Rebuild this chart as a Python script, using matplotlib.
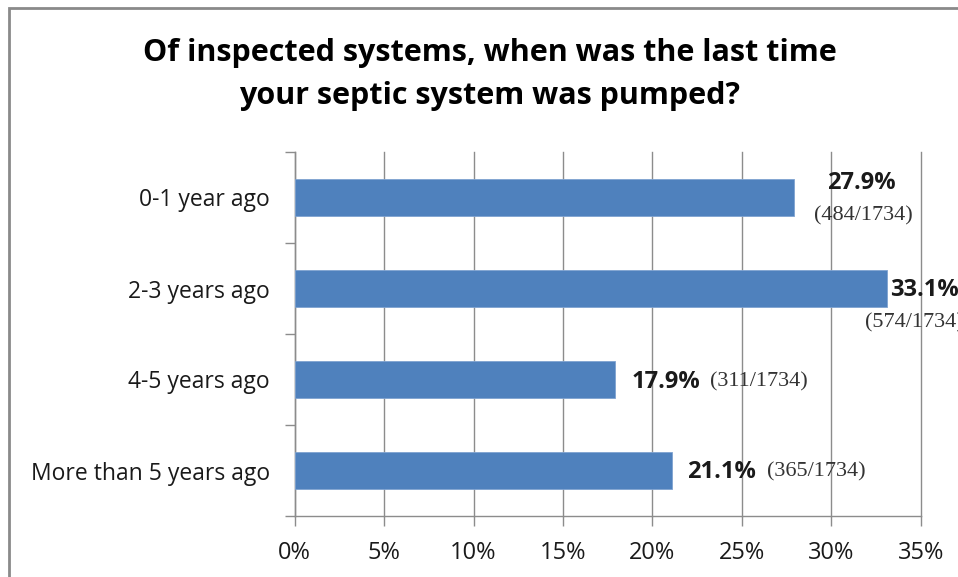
import matplotlib
matplotlib.use("Agg")
import matplotlib.pyplot as plt
from matplotlib.patches import Rectangle
import numpy as np

# data
categories = ["0-1 year ago", "2-3 years ago", "4-5 years ago", "More than 5 years ago"]
percents = [27.9, 33.1, 17.9, 21.1]
counts = [484, 574, 311, 365]
total = 1734
x_ticks = [0, 5, 10, 15, 20, 25, 30, 35]

title = "Of inspected systems, when was the last time\nyour septic system was pumped?"

# label placement, in px from bar end / bar centre (dy positive = down)
pct_pos = [(68, -14.5, "center"), (3, 1.5, "left"), (17, 2.5, "left"), (15, 1.5, "left")]
cnt_pos = [(70, 18.5, "center"), (-22, 34.5, "left"), (95, 2.5, "left"), (95, 1.5, "left")]

BAR = "#4F81BD"
GRID = "#8C8C8C"
TXT = "#1a1a1a"

W, H = 958, 577
fig = plt.figure(figsize=(W / 100, H / 100), dpi=100)
ax = fig.add_axes([294.7 / W, (H - 516) / H, (920.7 - 294.7) / W, (516 - 152) / H])

y = np.arange(len(categories))
ax.barh(y, percents, height=0.41, color=BAR, edgecolor="#7fa3d1", linewidth=0.6, zorder=3)

ax.set_xlim(0, 35)
ax.set_ylim(len(categories) - 0.5, -0.5)
ax.set_xticks(x_ticks)
ax.set_xticklabels([f"{t}%" for t in x_ticks], fontsize=17, family="Open Sans", color=TXT)
ax.set_yticks(np.arange(len(categories) + 1) - 0.5)
ax.set_yticklabels([])
ax.set_yticks(y, minor=True)
ax.set_yticklabels(categories, minor=True, fontsize=16.5, family="Open Sans", color=TXT)
ax.tick_params(axis="y", which="minor", length=0, pad=18)
ax.tick_params(axis="y", which="major", length=7.2, width=1, color=GRID, direction="out")
ax.tick_params(axis="x", length=7.2, width=1, color=GRID, direction="out", pad=11)

ax.grid(axis="x", color=GRID, linewidth=1, zorder=0)
for gl in ax.get_xgridlines():
    gl.set_clip_on(False)
for s in ["top", "right"]:
    ax.spines[s].set_visible(False)
for s in ["left", "bottom"]:
    ax.spines[s].set_color(GRID)
    ax.spines[s].set_linewidth(1)

for i, (p, c) in enumerate(zip(percents, counts)):
    dx, dy, ha = pct_pos[i]
    ax.annotate(f"{p}%", xy=(p, i), xytext=(dx * 0.72, -dy * 0.72), textcoords="offset points",
                ha=ha, va="center", fontsize=17, fontweight="bold", family="Open Sans",
                color=TXT, annotation_clip=False)
    dx, dy, ha = cnt_pos[i]
    ax.annotate(f"({c}/{total})", xy=(p, i), xytext=(dx * 0.72, -dy * 0.72),
                textcoords="offset points", ha=ha, va="center", fontsize=16,
                family="Liberation Serif", color="#333333", annotation_clip=False)

fig.suptitle(title, x=490 / W, y=1 - 38 / H, va="top", fontsize=22, fontweight="bold",
             family="Open Sans", color="black", linespacing=1.55)

# outer chart frame (cut off on the right and bottom like the original)
fig.patches.append(Rectangle((8.5 / W, -0.1), 1.2, 1 - 7.5 / H + 0.1, transform=fig.transFigure,
                             fill=False, edgecolor="#8a8a8a", linewidth=2))

fig.savefig("out.png", dpi=100)
